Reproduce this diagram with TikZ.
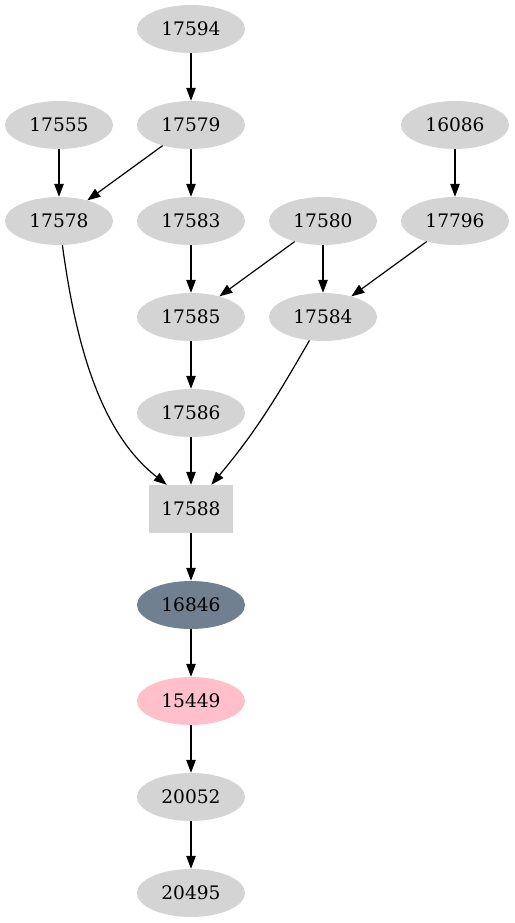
\documentclass[tikz,border=0pt]{standalone}
\usepackage{fontspec}
\setmainfont{DejaVu Serif}
\usetikzlibrary{positioning,arrows.meta,shapes.geometric}

\begin{document}
\begin{tikzpicture}[
  x=1pt,y=1pt,
  >={Triangle[length=13pt,width=9.5pt]},
  font=\fontsize{18.6}{22}\selectfont,
  gnode/.style ={ellipse,fill=black!17,minimum width=108pt,minimum height=48pt,
                  inner sep=0pt},
  hub/.style   ={rectangle,fill=black!17,minimum width=84pt,minimum height=48pt,
                  inner sep=0pt},
  link/.style  ={->,line width=1.2pt}]

\useasboundingbox (0,0) rectangle (514,923);

% --- top rows ---
\node[gnode] (n17594) at (191,894) {17594};
\node[gnode] (n17555) at (59,798)  {17555};
\node[gnode] (n17579) at (191,798) {17579};
\node[gnode] (n16086) at (455,798) {16086};

\node[gnode] (n17578) at (59,702)  {17578};
\node[gnode] (n17583) at (191,702) {17583};
\node[gnode] (n17580) at (323,702) {17580};
\node[gnode] (n17796) at (455,702) {17796};

\node[gnode] (n17585) at (191,606) {17585};
\node[gnode] (n17584) at (323,606) {17584};
\node[gnode] (n17586) at (191,510) {17586};

% --- the hub and the chain below it ---
\node[hub]   (n17588) at (191,414) {17588};
\node[gnode,fill={rgb,255:red,112;green,128;blue,144}] (n16846) at (191,318) {16846};
\node[gnode,fill={rgb,255:red,255;green,192;blue,203}] (n15449) at (191,222) {15449};
\node[gnode] (n20052) at (191,126) {20052};
\node[gnode] (n20495) at (191,30)  {20495};

\draw[link] (n17594) -- (n17579);
\draw[link] (n17555) -- (n17578);
\draw[link] (n17579) -- (n17578);
\draw[link] (n17579) -- (n17583);
\draw[link] (n16086) -- (n17796);
\draw[link] (n17583) -- (n17585);
\draw[link] (n17580) -- (n17585);
\draw[link] (n17580) -- (n17584);
\draw[link] (n17796) -- (n17584);
\draw[link] (n17585) -- (n17586);

\draw[link] (n17578.-82) .. controls (75,585) and (98,492) .. ([xshift=18pt]n17588.north west);
\draw[link] (n17586) -- (n17588);
\draw[link] (n17584) to[out=-120,in=50] (n17588);

\draw[link] (n17588) -- (n16846);
\draw[link] (n16846) -- (n15449);
\draw[link] (n15449) -- (n20052);
\draw[link] (n20052) -- (n20495);

\end{tikzpicture}
\end{document}
